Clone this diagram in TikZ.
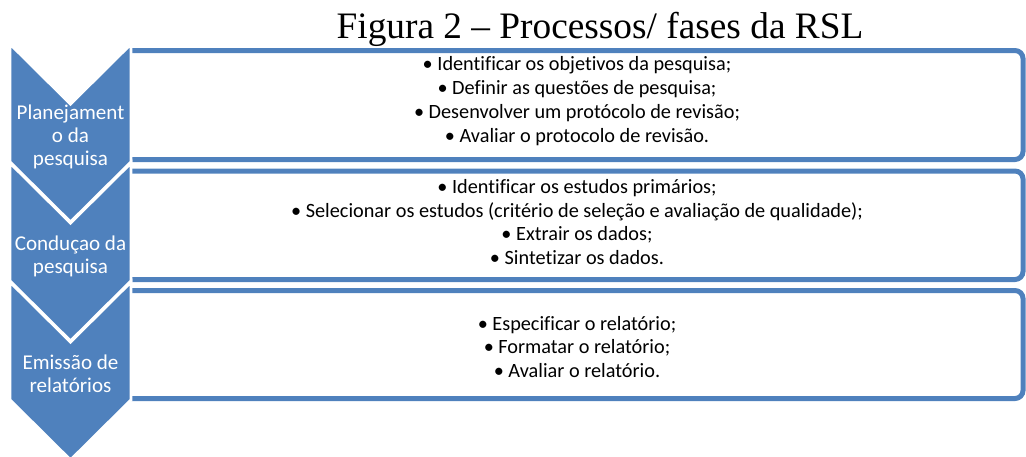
\documentclass[tikz,border=0pt]{standalone}
\usepackage{fontspec}
\setmainfont{Carlito}[Ligatures=NoCommon]
\newfontfamily\titlefont{Liberation Serif}
\definecolor{azul}{RGB}{79,129,189}
\begin{document}
\begin{tikzpicture}[x=0.75pt,y=-0.75pt,
    fase/.style = {fill=azul,draw=white,line width=2.2pt,line join=miter},
    caixa/.style = {draw=azul,line width=3.75pt,rounded corners=6pt},
    itens/.style = {align=center,font=\fontsize{15.2}{17.8}\selectfont},
    rotulo/.style = {align=center,text=white,font=\fontsize{15.8}{17.1}\selectfont}]
                \useasboundingbox (0,0) rectangle (1026,457);
                \node[font=\titlefont\fontsize{28}{32}\selectfont,anchor=base]
                    (titulo) at (600,38) {Figura 2 – Processos/ fases da RSL};

                % caixas abertas à esquerda
                \draw[caixa] (131,50.5) -| (1023,159.5) -- (131,159.5);
                \draw[caixa] (131,171) -| (1023,279.5) -- (131,279.5);
                \draw[caixa] (131,290.5) -| (1023,398.5) -- (131,398.5);

                % setas das fases
                \draw[fase] (10,44) -- (70.5,104) -- (131,44) -- (131,162)
                    -- (70.5,222) -- (10,162) -- cycle;
                \draw[fase] (10,163) -- (70.5,223) -- (131,163) -- (131,281)
                    -- (70.5,341) -- (10,281) -- cycle;
                \draw[fase] (10,282) -- (70.5,342) -- (131,282) -- (131,400)
                    -- (70.5,460) -- (10,400) -- cycle;

                \node[rotulo] (plan) at (70.5,137) {Planejament\\o da\\pesquisa};
                \node[rotulo] (cond) at (70.5,256) {Conduçao da\\pesquisa};
                \node[rotulo] (emis) at (70.5,374) {Emissão de\\relatórios};

                \node[itens] (planitens) at (577,101) {%
                    • Identificar os objetivos da pesquisa;\\
                    • Definir as questões de pesquisa;\\
                    • Desenvolver um protócolo de revisão;\\
                    • Avaliar o protocolo de revisão.};
                \node[itens] (conditens) at (577,222) {%
                    • Identificar os estudos primários;\\
                    • Selecionar os estudos (critério de seleção e avaliação de qualidade);\\
                    • Extrair os dados;\\
                    • Sintetizar os dados.};
                \node[itens] (emisitens) at (577,347) {%
                    • Especificar o relatório;\\
                    • Formatar o relatório;\\
                    • Avaliar o relatório.};
            \end{tikzpicture}
\end{document}
